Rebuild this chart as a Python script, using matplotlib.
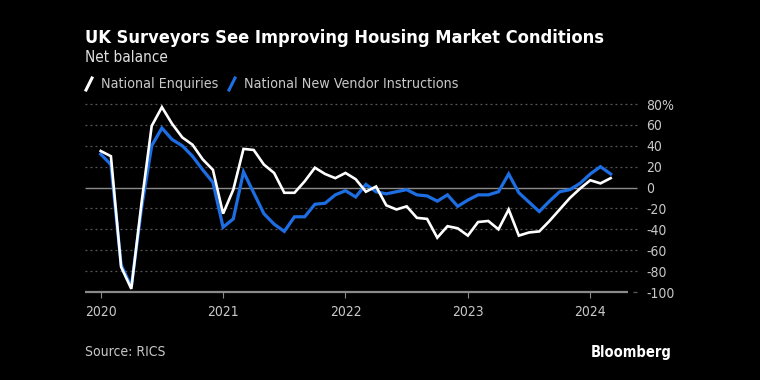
import matplotlib.pyplot as plt
from matplotlib.lines import Line2D
from matplotlib import font_manager
import numpy as np

# monthly RICS net balances, Jan 2020 .. Mar 2024
enquiries = [35, 30, -76, -97, -15, 59, 77, 61, 48, 41, 27, 17,
             -25, -2, 37, 36, 22, 14, -5, -5, 6, 19, 13, 9,
             14, 8, -4, 1, -17, -21, -18, -29, -30, -48, -37, -39,
             -46, -33, -32, -40, -21, -46, -43, -42, -32, -21, -10, -1,
             7, 4, 9]
vendor = [32, 22, -74, -95, -20, 40, 57, 46, 40, 30, 17, 5,
          -38, -30, 15, -5, -25, -35, -42, -28, -28, -16, -15, -7,
          -3, -9, 3, -4, -6, -4, -2, -7, -8, -13, -7, -18,
          -12, -7, -7, -4, 13, -5, -14, -23, -13, -4, -2, 4,
          13, 20, 13]
years = ['2020', '2021', '2022', '2023', '2024']
yticks = [80, 60, 40, 20, 0, -20, -40, -60, -80, -100]

WHITE = '#ffffff'
BLUE = '#1d6ee3'
GRID = '#5a5a5a'
TXT = '#c8c8c8'

# narrow face if there is one, else shrink the text a bit
path = font_manager.findfont(font_manager.FontProperties(family='DejaVu Sans', stretch='condensed'))
narrow = 'Condensed' in path
plt.rcParams['font.family'] = ['DejaVu Sans']
if narrow:
    plt.rcParams['font.stretch'] = 'condensed'
k = 1.0 if narrow else 0.88

fig = plt.figure(figsize=(7.6, 3.8), dpi=100, facecolor='black')
ax = fig.add_axes([85/760, 1-292/380, (628-85)/760, (292-104)/380])
ax.set_facecolor('black')

months = np.arange(len(enquiries))
x0, x1 = -1.54, 51.7
ax.set_xlim(x0, x1)
ax.set_ylim(-100, 80)

# gridlines, running a little past the plot on the right
for v in yticks:
    if v == -100:
        continue
    if v == 0:
        ax.hlines(v, x0, 52.6, color='#8a8a8a', lw=1.0, clip_on=False, zorder=1)
    else:
        ax.hlines(v, x0, 52.6, color=GRID, lw=0.9, ls=(0, (1.5, 2.5)), clip_on=False, zorder=1)
ax.hlines(-100, x0, x1, color='#8a8a8a', lw=1.6, clip_on=False, zorder=1)
ax.hlines(-100, 52.2, 52.6, color=GRID, lw=0.9, clip_on=False, zorder=1)

ax.plot(months, vendor, color=BLUE, lw=2.3, zorder=3, solid_joinstyle='miter')
ax.plot(months, enquiries, color=WHITE, lw=1.9, zorder=4, solid_joinstyle='miter')

for s in ax.spines.values():
    s.set_visible(False)

ax.yaxis.tick_right()
ax.set_yticks(yticks)
ax.set_yticklabels(['80%'] + [str(v) for v in yticks[1:]])
ax.tick_params(axis='y', length=0, pad=13, labelcolor=TXT, labelsize=10*k)
for lab in ax.get_yticklabels():
    lab.set_horizontalalignment('left')

ax.set_xticks([0, 12, 24, 36, 48])
ax.set_xticklabels(years)
ax.tick_params(axis='x', length=4, width=0.8, color='#8a8a8a', pad=5,
               labelcolor=TXT, labelsize=10*k)

# titles
fig.text(85/760, 1-38/380, 'UK Surveyors See Improving Housing Market Conditions',
         color='white', fontsize=13.1*k, fontweight='bold', va='center', ha='left')
fig.text(85/760, 1-58/380, 'Net balance', color='#e0e0e0', fontsize=11*k,
         va='center', ha='left')

# legend with slash markers
def legend_item(x, color, label):
    fig.add_artist(Line2D([x/760, (x+6)/760], [1-90/380, 1-78/380],
                          color=color, lw=2.2, transform=fig.transFigure))
    fig.text((x+15)/760, 1-84/380, label, color=TXT, fontsize=10.3*k,
             va='center', ha='left')

legend_item(86, WHITE, 'National Enquiries')
legend_item(229, BLUE, 'National New Vendor Instructions')

fig.text(85/760, 1-352/380, 'Source: RICS', color=TXT, fontsize=10*k,
         va='center', ha='left')
fig.text(672/760, 1-352/380, 'Bloomberg', color='white', fontsize=10.5*k,
         fontweight='bold', va='center', ha='right')

fig.savefig('out.png', dpi=100, facecolor='black')
